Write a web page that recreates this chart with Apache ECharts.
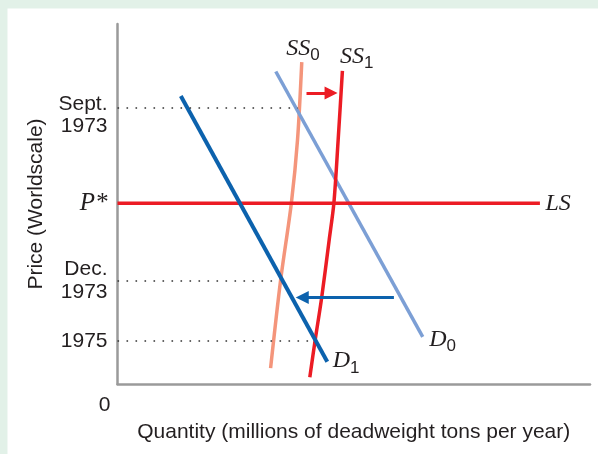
<!DOCTYPE html>
<html><head><meta charset="utf-8">
<script src="https://cdn.jsdelivr.net/npm/echarts@6/dist/echarts.min.js"></script>
<style>html,body{margin:0;padding:0;background:#e2f1e8}#c{width:598px;height:454px}</style>
</head><body><div id="c"></div>
<script>
// Price ticks (vertical axis) and their labels
const priceTicks = [76.6, 50.2, 28.7, 12.0];
const priceLabels = ['Sept.\n1973', 'P*', 'Dec.\n1973', '1975'];
// Where each dotted guide line ends (quantity), null = no guide
const guideEnds = [38.2, null, 34.0, 41.4];
// Curves: [quantity, price]
const lsLine = [[0, 50.2], [89.4, 50.2]];
const d0 = [[33.5, 86.8], [64.6, 13.1]];
const d1 = [[13.4, 80.0], [44.4, 6.2]];
const ss0 = [[32.4, 4.4], [34.5, 28.6], [36.8, 50.3], [38.1, 67.8], [39.0, 89.4]];
const ss1 = [[40.7, 1.9], [41.8, 11.9], [43.2, 23.9], [44.8, 40.0], [45.8, 50.3], [46.7, 67.8], [47.6, 87.0]];
// Shift arrows: [from, to]
const supplyShift = [[40.0, 80.8], [45.2, 80.8]];
const demandShift = [[58.5, 24.0], [39.1, 24.0]];
// Curve labels
const curveLabels = { ss0: ['SS', '0'], ss1: ['SS', '1'], ls: ['LS', ''], d0: ['D', '0'], d1: ['D', '1'] };

const TXT = '#231f20';
const SANS = 'Liberation Sans';
const SERIF = 'Liberation Serif';
const FS = 21;
const RED = '#ec1c24', BLUE = '#0c62ad', LBLUE = '#7c9fd5', SALMON = '#f4957b';

const richCurve = {
  it: { fontFamily: SERIF, fontStyle: 'italic', fontSize: 24, color: TXT },
  sub: { fontFamily: SANS, fontSize: 17, color: TXT, padding: [14, 0, 0, 0] }
};

function curveSeries(name, pts, color, width, key, offset, smooth) {
  const lab = curveLabels[key];
  const txt = '{it|' + lab[0] + '}' + (lab[1] ? '{sub|' + lab[1] + '}' : '');
  return {
    name: name, type: 'line', smooth: smooth || false, symbol: 'circle', symbolSize: 1,
    itemStyle: { color: 'rgba(0,0,0,0)', borderWidth: 0 }, lineStyle: { color: color, width: width },
    z: 3,
    data: pts.map((p, i) => i === pts.length - 1 ? {
      value: p,
      label: { show: true, position: offset, align: 'left', verticalAlign: 'middle', formatter: txt, rich: richCurve, color: TXT }
    } : { value: p, label: { show: false } })
  };
}

const guideData = [];
priceTicks.forEach((t, i) => {
  if (guideEnds[i] != null) guideData.push([{ coord: [0, t] }, { coord: [guideEnds[i], t] }]);
});

function arrowSeries(pair, color) {
  return {
    type: 'line', data: [], z: 4,
    markLine: {
      silent: true, animation: false,
      symbol: ['none', 'triangle'], symbolSize: 13,
      label: { show: false },
      itemStyle: { color: color },
      lineStyle: { color: color, width: 3, type: 'solid' },
      data: [[{ coord: pair[0] }, { coord: pair[1] }]]
    }
  };
}

const chart = echarts.init(document.getElementById('c'), null, { renderer: 'canvas' });
chart.setOption({
  animation: false,
  backgroundColor: '#e2f1e8',
  graphic: [{ type: 'rect', left: 7.5, top: 8.5, z: -100, shape: { width: 620, height: 470 }, style: { fill: '#ffffff' } }],
  grid: { left: 117.5, right: 8, top: 24, bottom: 70 },
  xAxis: {
    type: 'value', min: 0, max: 100,
    name: 'Quantity (millions of deadweight tons per year)',
    nameLocation: 'middle', nameGap: 38,
    nameTextStyle: { fontFamily: SANS, fontSize: FS, color: TXT },
    axisLine: { lineStyle: { color: '#9a9a9a', width: 2.5 } },
    axisTick: { show: false }, splitLine: { show: false },
    axisLabel: { customValues: [0], formatter: () => '0', align: 'right', margin: 11, padding: [0, 7, 0, 0], fontFamily: SANS, fontSize: FS, color: TXT }
  },
  yAxis: {
    type: 'value', min: 0, max: 100,
    name: 'Price (Worldscale)', nameLocation: 'middle', nameGap: 71,
    nameTextStyle: { fontFamily: SANS, fontSize: FS, color: TXT },
    axisLine: { show: true, lineStyle: { color: '#9a9a9a', width: 2.5 } },
    axisTick: { show: false }, splitLine: { show: false },
    axisLabel: {
      customValues: priceTicks, margin: 10, fontFamily: SANS, fontSize: FS, lineHeight: 23, color: TXT,
      formatter: (v) => {
        const i = priceTicks.findIndex(t => Math.abs(t - v) < 1e-6);
        const s = i >= 0 ? priceLabels[i] : '';
        if (s === 'P*') return '{p|P*}';
        const lines = s.split('\n');
        if (i === 0) return '{s|' + lines[0] + '}\n{t|' + lines[1] + '}';
        return s;
      },
      rich: {
        p: { fontFamily: SERIF, fontStyle: 'italic', fontSize: 25, color: TXT },
        s: { fontFamily: SANS, fontSize: FS, lineHeight: 36, verticalAlign: 'bottom', color: TXT },
        t: { fontFamily: SANS, fontSize: FS, lineHeight: 23, color: TXT }
      }
    }
  },
  series: [
    {
      type: 'line', data: [], z: 1,
      markLine: {
        silent: true, animation: false, symbol: ['none', 'none'], label: { show: false },
        lineStyle: { color: '#333', width: 1.6, type: [1.6, 7.4] },
        data: guideData
      }
    },
    curveSeries('SS0', ss0, SALMON, 3.5, 'ss0', [-15, -13], 0.3),
    curveSeries('D0', d0, LBLUE, 3.5, 'd0', [7, 3]),
    curveSeries('LS', lsLine, RED, 3.5, 'ls', [6, 1]),
    curveSeries('SS1', ss1, RED, 3.5, 'ss1', [-2, -14], 0.3),
    curveSeries('D1', d1, BLUE, 4, 'd1', [6, 0]),
    arrowSeries(supplyShift, RED),
    arrowSeries(demandShift, BLUE)
  ]
});
</script>
</body></html>
